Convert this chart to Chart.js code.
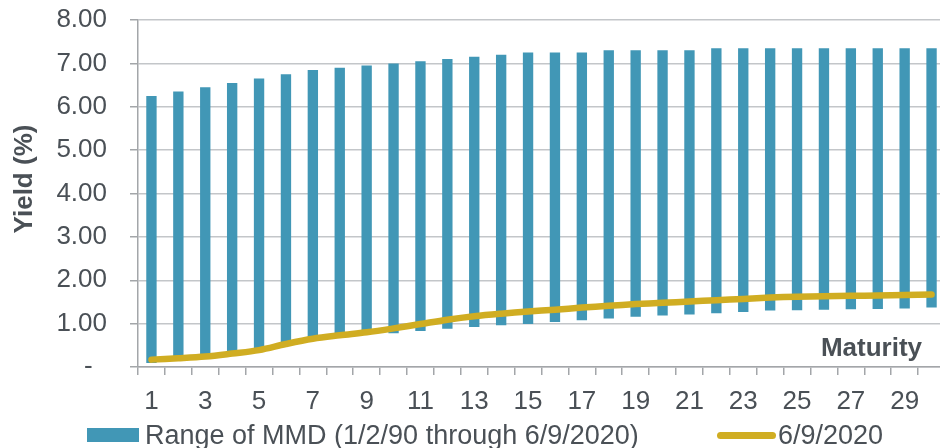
<!DOCTYPE html>
<html>
<head>
<meta charset="utf-8">
<script src="https://cdn.jsdelivr.net/npm/chart.js@4.4.1/dist/chart.umd.min.js"></script>
<style>
  html, body { margin: 0; padding: 0; background: #ffffff; overflow: hidden; }
  #wrap { position: relative; width: 945px; height: 448px; }
  #chartBox { position: absolute; left: 0; top: 0; width: 945px; height: 420px; }
  #legend { position: absolute; left: 0; top: 0; width: 945px; height: 448px; pointer-events: none;
            font-family: "Liberation Sans", Arial, sans-serif; font-size: 27px; color: #4a5056; }
  #legend .sw { position: absolute; }
  #legend .tx { position: absolute; line-height: 30px; white-space: nowrap; }
</style>
</head>
<body>
<div id="wrap">
  <div id="chartBox"><canvas id="c"></canvas></div>
  <div id="legend"></div>
</div>
<script>
// ---- data ----
const maturities = [1, 2, 3, 4, 5, 6, 7, 8, 9, 10, 11, 12, 13, 14, 15,
                    16, 17, 18, 19, 20, 21, 22, 23, 24, 25, 26, 27, 28, 29, 30];
const rangeHigh = [6.25, 6.35, 6.45, 6.55, 6.65, 6.75, 6.85, 6.90, 6.95, 7.00,
                   7.05, 7.10, 7.15, 7.20, 7.25, 7.25, 7.25, 7.30, 7.30, 7.30,
                   7.30, 7.35, 7.35, 7.35, 7.35, 7.35, 7.35, 7.35, 7.35, 7.35];
const rangeLow = [0.09, 0.19, 0.24, 0.31, 0.39, 0.53, 0.65, 0.73, 0.80, 0.78,
                  0.83, 0.88, 0.92, 0.96, 0.99, 1.04, 1.08, 1.12, 1.16, 1.19,
                  1.21, 1.24, 1.27, 1.30, 1.31, 1.32, 1.33, 1.34, 1.35, 1.37];
const yield20200609 = [0.17, 0.20, 0.24, 0.31, 0.39, 0.53, 0.65, 0.73, 0.80, 0.89,
                       0.99, 1.09, 1.17, 1.23, 1.28, 1.32, 1.37, 1.41, 1.45, 1.48,
                       1.51, 1.54, 1.57, 1.60, 1.62, 1.63, 1.64, 1.65, 1.66, 1.67];
const yTickValues = [0, 1, 2, 3, 4, 5, 6, 7, 8];
const seriesNames = ['Range of MMD (1/2/90 through 6/9/2020)', '6/9/2020'];
const yTitle = 'Yield (%)';
const xTitle = 'Maturity';

const BAR_COLOR = '#4197b6';
const LINE_COLOR = '#d0ad22';
const TEXT_COLOR = '#4a5056';
const FONT = '"Liberation Sans", Arial, sans-serif';

const rangePairs = maturities.map((m, i) => [rangeLow[i], rangeHigh[i]]);

const titlePlugin = {
  id: 'titles',
  afterDraw(chart) {
    const ctx = chart.ctx;
    const ca = chart.chartArea;
    ctx.save();
    ctx.fillStyle = TEXT_COLOR;
    ctx.font = 'bold 26px ' + FONT;
    // x title inside the plot, bottom-right
    ctx.textAlign = 'right';
    ctx.textBaseline = 'alphabetic';
    ctx.fillText(xTitle, ca.right - 23, ca.bottom - 11);
    // y title rotated
    ctx.translate(32, 179);
    ctx.rotate(-Math.PI / 2);
    ctx.textAlign = 'center';
    ctx.fillText(yTitle, 0, 0);
    ctx.restore();
  }
};

const chart = new Chart(document.getElementById('c'), {
  data: {
    labels: maturities.map(String),
    datasets: [
      {
        type: 'line',
        label: seriesNames[1],
        data: yield20200609,
        borderColor: LINE_COLOR,
        backgroundColor: LINE_COLOR,
        borderWidth: 6.5,
        borderCapStyle: 'round',
        borderJoinStyle: 'round',
        pointRadius: 0,
        tension: 0.35,
        order: 0
      },
      {
        type: 'bar',
        label: seriesNames[0],
        data: rangePairs,
        backgroundColor: BAR_COLOR,
        borderWidth: 0,
        borderSkipped: false,
        categoryPercentage: 1.0,
        barPercentage: 0.385,
        order: 1
      }
    ]
  },
  options: {
    responsive: true,
    maintainAspectRatio: false,
    devicePixelRatio: 1,
    animation: false,
    layout: { padding: { top: 20, left: 0, right: 0, bottom: 0 } },
    plugins: {
      legend: { display: false },
      tooltip: { enabled: false }
    },
    scales: {
      x: {
        type: 'category',
        offset: true,
        grid: {
          display: true,
          offset: true,
          drawOnChartArea: false,
          drawTicks: true,
          tickLength: 8,
          color: '#a3a6a9',
          tickColor: '#a3a6a9',
          lineWidth: 1.5
        },
        border: { display: true, color: '#a3a6a9', width: 1.5 },
        ticks: {
          autoSkip: false,
          maxRotation: 0,
          padding: 11,
          color: TEXT_COLOR,
          font: { family: FONT, size: 26 },
          callback: function (value, index) {
            return index % 2 === 0 ? this.getLabelForValue(value) : '';
          }
        },
        afterFit(scale) { scale.height = 53; scale.paddingLeft = 0; scale.paddingRight = 0; }
      },
      y: {
        min: 0,
        max: 8,
        afterBuildTicks(scale) { scale.ticks = yTickValues.map(v => ({ value: v })); },
        grid: {
          color: '#c3c6c9',
          lineWidth: 1.5,
          drawTicks: true,
          tickLength: 8,
          tickColor: '#a3a6a9'
        },
        border: { display: true, color: '#a3a6a9', width: 1.5 },
        ticks: {
          padding: 23,
          color: TEXT_COLOR,
          font: { family: FONT, size: 26 },
          callback: (v) => (v === 0 ? '-  ' : Number(v).toFixed(2))
        },
        afterFit(scale) { scale.width = 138; scale.paddingTop = 0; scale.paddingBottom = 0; }
      }
    }
  },
  plugins: [titlePlugin]
});

// ---- HTML legend built from the chart's own legend items ----
(function buildLegend() {
  const legend = document.getElementById('legend');
  const items = chart.options.plugins.legend.labels.generateLabels(chart);
  const barItem = items.find(it => it.datasetIndex === 1);
  const lineItem = items.find(it => it.datasetIndex === 0);
  const layout = [
    { item: barItem, sw: { left: 87, top: 428, width: 52, height: 14, radius: 0 }, textLeft: 145 },
    { item: lineItem, sw: { left: 717, top: 431.5, width: 59, height: 7.5, radius: 4 }, textLeft: 778 }
  ];
  layout.forEach(({ item, sw, textLeft }) => {
    const s = document.createElement('div');
    s.className = 'sw';
    s.style.left = sw.left + 'px';
    s.style.top = sw.top + 'px';
    s.style.width = sw.width + 'px';
    s.style.height = sw.height + 'px';
    s.style.borderRadius = sw.radius + 'px';
    s.style.background = item.datasetIndex === 0 ? item.strokeStyle : item.fillStyle;
    legend.appendChild(s);
    const t = document.createElement('div');
    t.className = 'tx';
    t.style.left = textLeft + 'px';
    t.style.top = '420px';
    t.textContent = item.text;
    legend.appendChild(t);
  });
})();
</script>
</body>
</html>
